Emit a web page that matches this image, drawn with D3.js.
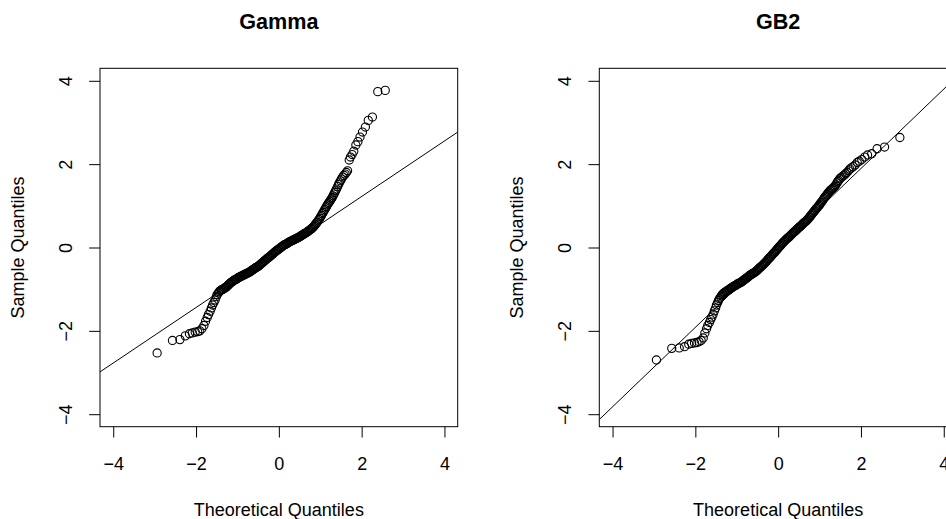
<!DOCTYPE html>
<html>
<head>
<meta charset="utf-8">
<script src="https://cdn.jsdelivr.net/npm/d3@7"></script>
<style>
  body { margin: 0; background: #fff; }
  text { font-family: "Liberation Sans", Arial, Helvetica, sans-serif; }
</style>
</head>
<body>
<div id="chart"></div>
<script>
// theoretical normal quantiles (shared by both panels)
const theoQ = [
  -2.94, -2.57, -2.39, -2.26, -2.16, -2.09, -2.02, -1.96, -1.91, -1.86,
  -1.81, -1.77, -1.73, -1.70, -1.66, -1.63, -1.60, -1.57, -1.54, -1.51,
  -1.49, -1.46, -1.44, -1.42, -1.39, -1.37, -1.35, -1.33, -1.31, -1.29,
  -1.27, -1.25, -1.23, -1.21, -1.19, -1.17, -1.15, -1.13, -1.11, -1.09,
  -1.07, -1.05, -1.03, -1.01, -0.99, -0.97, -0.95, -0.93, -0.91, -0.89,
  -0.87, -0.85, -0.83, -0.81, -0.79, -0.77, -0.75, -0.73, -0.71, -0.69,
  -0.67, -0.65, -0.63, -0.61, -0.59, -0.57, -0.55, -0.53, -0.51, -0.49,
  -0.47, -0.45, -0.43, -0.41, -0.39, -0.37, -0.35, -0.33, -0.31, -0.29,
  -0.27, -0.25, -0.23, -0.21, -0.19, -0.17, -0.15, -0.13, -0.11, -0.09,
  -0.07, -0.05, -0.03, -0.01, 0.01, 0.03, 0.05, 0.07, 0.09, 0.11,
  0.13, 0.15, 0.17, 0.19, 0.21, 0.23, 0.25, 0.27, 0.29, 0.31,
  0.33, 0.35, 0.37, 0.39, 0.41, 0.43, 0.45, 0.47, 0.49, 0.51,
  0.53, 0.55, 0.57, 0.59, 0.61, 0.63, 0.65, 0.67, 0.69, 0.71,
  0.73, 0.75, 0.77, 0.79, 0.81, 0.83, 0.85, 0.87, 0.89, 0.91,
  0.93, 0.95, 0.97, 0.99, 1.01, 1.03, 1.05, 1.07, 1.09, 1.11,
  1.13, 1.15, 1.17, 1.19, 1.21, 1.23, 1.25, 1.27,
  1.29, 1.31, 1.33, 1.35, 1.37, 1.39, 1.42, 1.44, 1.46, 1.49,
  1.51, 1.54, 1.57, 1.60, 1.63, 1.66, 1.70, 1.73, 1.77, 1.81,
  1.86, 1.91, 1.96, 2.02, 2.09, 2.16, 2.26, 2.39, 2.57, 2.94
];

// sample quantiles, Gamma panel (largest one sits above the plot region)
const gammaSample = [
  -2.53, -2.23, -2.21, -2.12, -2.07, -2.05, -2.03, -2.02, -2.00, -1.95,
  -1.87, -1.77, -1.68, -1.61, -1.53, -1.45, -1.38, -1.32, -1.26, -1.18,
  -1.13, -1.09, -1.06, -1.04, -1.02, -1.01, -1.00, -0.99, -0.97, -0.96,
  -0.95, -0.93, -0.91, -0.89, -0.87, -0.85, -0.84, -0.82, -0.81, -0.79,
  -0.78, -0.77, -0.76, -0.75, -0.73, -0.72, -0.71, -0.70, -0.69, -0.68,
  -0.67, -0.66, -0.65, -0.64, -0.63, -0.62, -0.61, -0.60, -0.59, -0.58,
  -0.56, -0.55, -0.53, -0.52, -0.51, -0.49, -0.48, -0.47, -0.46, -0.44,
  -0.43, -0.41, -0.39, -0.38, -0.36, -0.34, -0.32, -0.31, -0.29, -0.27,
  -0.26, -0.24, -0.23, -0.21, -0.19, -0.17, -0.16, -0.14, -0.12, -0.10,
  -0.09, -0.07, -0.06, -0.04, -0.03, -0.01, 0.00, 0.02, 0.03, 0.05,
  0.06, 0.07, 0.08, 0.09, 0.10, 0.12, 0.13, 0.14, 0.15, 0.16,
  0.17, 0.18, 0.19, 0.20, 0.21, 0.22, 0.23, 0.24, 0.25, 0.26,
  0.28, 0.29, 0.30, 0.31, 0.33, 0.34, 0.35, 0.36, 0.38, 0.39,
  0.41, 0.42, 0.44, 0.45, 0.47, 0.49, 0.51, 0.54, 0.56, 0.59,
  0.61, 0.64, 0.67, 0.70, 0.74, 0.77, 0.81, 0.84, 0.88, 0.91,
  0.95, 0.98, 1.02, 1.05, 1.08, 1.11, 1.14, 1.17,
  1.20, 1.24, 1.28, 1.32, 1.36, 1.40, 1.46, 1.51, 1.55, 1.60,
  1.64, 1.69, 1.73, 1.76, 1.80, 1.84, 2.10, 2.17, 2.23, 2.31,
  2.46, 2.54, 2.65, 2.77, 2.89, 3.05, 3.13, 3.74, 3.77, 4.60
];

// sample quantiles, GB2 panel
const gb2Sample = [
  -2.70, -2.42, -2.41, -2.38, -2.32, -2.30, -2.29, -2.28, -2.26, -2.23,
  -2.17, -2.05, -1.95, -1.87, -1.80, -1.73, -1.67, -1.60, -1.52, -1.45,
  -1.38, -1.32, -1.27, -1.23, -1.19, -1.16, -1.13, -1.11, -1.09, -1.08,
  -1.07, -1.05, -1.04, -1.03, -1.01, -1.00, -0.98, -0.97, -0.96, -0.94,
  -0.93, -0.92, -0.91, -0.90, -0.88, -0.87, -0.86, -0.85, -0.84, -0.83,
  -0.81, -0.80, -0.78, -0.77, -0.75, -0.74, -0.72, -0.71, -0.69, -0.67,
  -0.66, -0.65, -0.63, -0.62, -0.61, -0.60, -0.58, -0.57, -0.55, -0.53,
  -0.51, -0.49, -0.47, -0.46, -0.44, -0.42, -0.40, -0.38, -0.36, -0.34,
  -0.32, -0.29, -0.27, -0.25, -0.23, -0.21, -0.18, -0.16, -0.14, -0.12,
  -0.10, -0.07, -0.05, -0.03, 0.00, 0.02, 0.04, 0.06, 0.09, 0.11,
  0.13, 0.15, 0.17, 0.19, 0.21, 0.23, 0.24, 0.26, 0.28, 0.30,
  0.32, 0.34, 0.36, 0.38, 0.39, 0.41, 0.43, 0.45, 0.47, 0.49,
  0.50, 0.52, 0.54, 0.56, 0.58, 0.60, 0.61, 0.63, 0.65, 0.67,
  0.69, 0.72, 0.74, 0.77, 0.79, 0.82, 0.84, 0.87, 0.89, 0.92,
  0.94, 0.96, 0.99, 1.01, 1.04, 1.07, 1.09, 1.12, 1.15, 1.18,
  1.21, 1.23, 1.26, 1.28, 1.31, 1.33, 1.36, 1.38,
  1.39, 1.41, 1.43, 1.45, 1.47, 1.50, 1.55, 1.58, 1.61, 1.65,
  1.67, 1.69, 1.72, 1.74, 1.77, 1.80, 1.84, 1.88, 1.91, 1.94,
  1.98, 2.04, 2.07, 2.11, 2.17, 2.22, 2.25, 2.37, 2.41, 2.64
];

const panelTitles = ["Gamma", "GB2"];
const qqLineGamma = [-0.108, 0.666];   // intercept, slope
const qqLineGB2 = [-0.011, 0.953];
const tickValues = [-4, -2, 0, 2, 4];
const xTitle = "Theoretical Quantiles";
const yTitle = "Sample Quantiles";

const width = 946;
const height = 519;
const plotW = 357.7;
const plotTop = 68.3;
const plotBottom = 426.7;
const tickLen = 10.8;

const svg = d3.select("#chart")
  .append("svg")
  .attr("width", width)
  .attr("height", height);

const panels = [
  { title: panelTitles[0], sample: gammaSample, qq: qqLineGamma, left: 100 },
  { title: panelTitles[1], sample: gb2Sample, qq: qqLineGB2, left: 599.3 }
];

panels.forEach((p, i) => {
  const x = d3.scaleLinear().domain([-4.32, 4.32]).range([p.left, p.left + plotW]);
  const y = d3.scaleLinear().domain([-4.3, 4.3]).range([plotBottom, plotTop]);
  const cx = x(0);

  svg.append("clipPath")
    .attr("id", "clip" + i)
    .append("rect")
    .attr("x", p.left)
    .attr("y", plotTop)
    .attr("width", plotW)
    .attr("height", plotBottom - plotTop);

  const plot = svg.append("g").attr("clip-path", `url(#clip${i})`);

  // points
  plot.selectAll("circle")
    .data(theoQ.map((q, k) => [q, p.sample[k]]))
    .join("circle")
    .attr("cx", d => x(d[0]))
    .attr("cy", d => y(d[1]))
    .attr("r", 4.1)
    .attr("fill", "none")
    .attr("stroke", "#000")
    .attr("stroke-width", 1.1);

  // qq line
  const [a, b] = p.qq;
  plot.append("line")
    .attr("x1", x(-4.32)).attr("y1", y(a + b * -4.32))
    .attr("x2", x(4.32)).attr("y2", y(a + b * 4.32))
    .attr("stroke", "#000")
    .attr("stroke-width", 1);

  // box
  svg.append("rect")
    .attr("x", p.left)
    .attr("y", plotTop)
    .attr("width", plotW)
    .attr("height", plotBottom - plotTop)
    .attr("fill", "none")
    .attr("stroke", "#000")
    .attr("stroke-width", 1);

  // x axis
  const gx = svg.append("g")
    .attr("transform", `translate(0,${plotBottom})`)
    .call(d3.axisBottom(x).tickValues(tickValues).tickSize(tickLen).tickSizeOuter(0));
  gx.select(".domain").remove();
  gx.selectAll("line").attr("stroke", "#000");
  gx.selectAll("text")
    .attr("y", 43.3)
    .attr("dy", null)
    .attr("fill", "#000")
    .attr("font-size", 18)
    .attr("font-family", null);

  // y axis
  const gy = svg.append("g")
    .attr("transform", `translate(${p.left},0)`)
    .call(d3.axisLeft(y).tickValues(tickValues).tickSize(tickLen).tickSizeOuter(0));
  gy.select(".domain").remove();
  gy.selectAll("line").attr("stroke", "#000");
  gy.selectAll("text")
    .attr("x", null)
    .attr("dy", null)
    .attr("text-anchor", "middle")
    .attr("transform", "translate(-28,0) rotate(-90)")
    .attr("fill", "#000")
    .attr("font-size", 18)
    .attr("font-family", null);

  // titles
  svg.append("text")
    .attr("x", cx)
    .attr("y", 29)
    .attr("text-anchor", "middle")
    .attr("font-size", 21.6)
    .attr("font-weight", "bold")
    .text(p.title);

  svg.append("text")
    .attr("x", cx)
    .attr("y", 516)
    .attr("text-anchor", "middle")
    .attr("font-size", 18)
    .text(xTitle);

  svg.append("text")
    .attr("transform", `translate(${p.left - 76},${y(0)}) rotate(-90)`)
    .attr("text-anchor", "middle")
    .attr("font-size", 18)
    .text(yTitle);
});
</script>
</body>
</html>
